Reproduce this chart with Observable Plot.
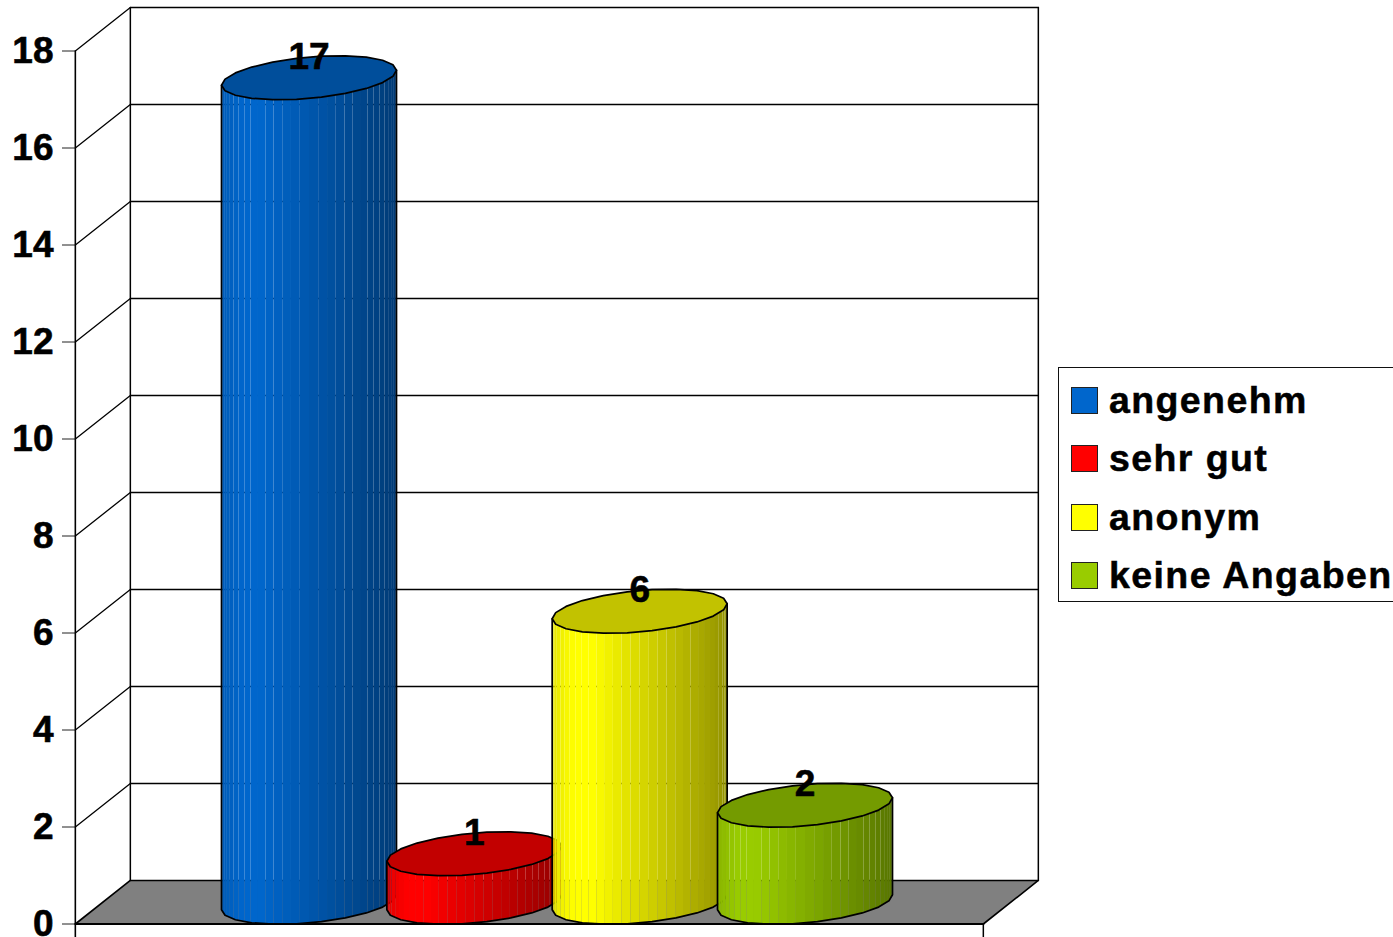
<!DOCTYPE html>
<html lang="de">
<head>
<meta charset="utf-8">
<script src="https://cdn.jsdelivr.net/npm/d3@7"></script>
<script src="https://cdn.jsdelivr.net/npm/@observablehq/plot@0.6"></script>
<style>
  html, body { margin: 0; padding: 0; background: #fff; overflow: hidden; }
  #page { position: relative; width: 1393px; height: 937px; overflow: hidden; font-family: "Liberation Sans", Arial, sans-serif; }
  #page svg { display: block; }
  #page svg text { stroke: #000; stroke-width: 0.6px; }
  #legend { position: absolute; left: 1058px; top: 367px; width: 340px; height: 234.5px; box-sizing: border-box; border: 1.5px solid #111; background: #fff; }
  .row { position: absolute; left: 12px; height: 26px; }
  .swatch { position: absolute; left: 0; top: -1px; width: 27px; height: 27px; box-sizing: border-box; border: 1.5px solid #222; }
  .name { position: absolute; left: 38px; top: -7px; line-height: 38px; font-size: 37.5px; font-weight: bold; letter-spacing: 1.4px; white-space: nowrap; color: #000; -webkit-text-stroke: 0.5px #000; }
</style>
</head>
<body>
<div id="page"></div>
<script>
// Chart values
const categories = ["angenehm", "sehr gut", "anonym", "keine Angaben"];
const values = [17, 1, 6, 2];
const baseColors = [[0, 102, 204], [255, 0, 0], [255, 255, 0], [153, 204, 0]];
const yTicks = [0, 2, 4, 6, 8, 10, 12, 14, 16, 18];
const legendTops = [20, 78, 137, 195];

// Chart frame, in data units (x: category slots, y: axis values)
const xLeft = -1.4133, xRight = 4.0786;
const depthX = 0.3327, depthY = 0.897;
const yMax = 18;
const halfX = 0.5292, halfY = 0.4536, tilt = 20 * Math.PI / 180;
const facets = 30;      // shading strips on the front half
const rimSides = 22;    // corners of the cylinder rim, all round

const rgb = (c, f) => `rgb(${c.map(v => Math.round(v * f)).join(",")})`;
const shade = u => u < 0.12 ? 0.9 + u / 0.12 * 0.1 : u < 0.22 ? 1 : 1 - (u - 0.22) / 0.78 * 0.42;

const corner = (i, level, t) => ({
  x: i + halfX * Math.cos(t),
  y: level + depthY / 2 + halfY * Math.sin(t + tilt)
});
const rimPoint = (i, level, t) => {
  const step = 2 * Math.PI / rimSides;
  const k = Math.min(Math.floor(t / step + 1e-9), rimSides - 1);
  const f = t / step - k;
  const a = corner(i, level, k * step), b = corner(i, level, (k + 1) * step);
  return {x: a.x + (b.x - a.x) * f, y: a.y + (b.y - a.y) * f};
};
const frontAngle = k => Math.PI + Math.PI * k / facets;

const cylinderMarks = [];
values.forEach((v, i) => {
  const strip = [];
  for (let k = 0; k < facets; ++k) {
    const a = frontAngle(k), b = frontAngle(k + 1);
    const u = (1 + Math.cos((a + b) / 2)) / 2;
    const color = rgb(baseColors[i], shade(u));
    [rimPoint(i, 0, a), rimPoint(i, 0, b), rimPoint(i, v, b), rimPoint(i, v, a)]
      .forEach(p => strip.push({...p, id: `${i}-${k}`, color}));
  }
  const outline = [corner(i, v, Math.PI)];
  for (let k = rimSides / 2; k <= rimSides; ++k) outline.push(corner(i, 0, k * 2 * Math.PI / rimSides));
  outline.push(corner(i, v, 2 * Math.PI));
  const top = [];
  for (let k = 0; k < rimSides; ++k) top.push({...corner(i, v, k * 2 * Math.PI / rimSides), color: rgb(baseColors[i], 0.76)});
  cylinderMarks.push(
    Plot.line(strip, {x: "x", y: "y", z: "id", fill: "color", stroke: "none", curve: "linear-closed"}),
    Plot.line(outline, {x: "x", y: "y", stroke: "#000", strokeWidth: 1.7}),
    Plot.line(top, {x: "x", y: "y", z: "color", fill: "color", stroke: "#000", strokeWidth: 1.7, curve: "linear-closed"})
  );
});

const floor = [
  {x: xLeft, y: 0}, {x: xRight, y: 0},
  {x: xRight + depthX, y: depthY}, {x: xLeft + depthX, y: depthY}
];
const grid = yTicks.slice(1).flatMap(v => [
  {x: xLeft, y: v, v}, {x: xLeft + depthX, y: v + depthY, v}, {x: xRight + depthX, y: v + depthY, v}
]);
const labels = values.map((v, i) => ({x: i, y: v + depthY / 2 + 0.43, text: String(v)}));

const chart = Plot.plot({
  width: 1393, height: 937,
  marginLeft: 75, marginRight: 0, marginTop: 50.5, marginBottom: 13.5,
  style: {fontFamily: '"Liberation Sans", Arial, sans-serif', background: "#fff", overflow: "hidden"},
  x: {domain: [0, 3], range: [308.5, 804.5], axis: null},
  y: {domain: [0, yMax], range: [923.5, 50.5]},
  color: {type: "identity"},
  marks: [
    Plot.line(floor, {x: "x", y: "y", fill: "#808080", stroke: "#000", strokeWidth: 1.6, curve: "linear-closed"}),
    Plot.line(grid, {x: "x", y: "y", z: "v", stroke: "#000", strokeWidth: 1.3}),
    Plot.line([{x: xLeft + depthX, y: depthY}, {x: xLeft + depthX, y: yMax + depthY}], {x: "x", y: "y", stroke: "#000", strokeWidth: 1.5}),
    Plot.line([{x: xRight + depthX, y: depthY}, {x: xRight + depthX, y: yMax + depthY}], {x: "x", y: "y", stroke: "#000", strokeWidth: 1.5}),
    ...cylinderMarks,
    Plot.line([{x: xLeft, y: yMax}, {x: xLeft, y: -0.3}], {x: "x", y: "y", stroke: "#000", strokeWidth: 1.6}),
    Plot.line([{x: xLeft, y: 0}, {x: xRight, y: 0}], {x: "x", y: "y", stroke: "#000", strokeWidth: 2.2}),
    Plot.line([{x: xRight, y: 0}, {x: xRight, y: -0.3}], {x: "x", y: "y", stroke: "#000", strokeWidth: 1.5}),
    Plot.axisY({ticks: yTicks, label: null, tickSize: 13, tickPadding: 9, fontSize: 37, fontWeight: "bold", stroke: "#222", fill: "#000", tickFormat: d => String(d)}),
    Plot.text(labels, {x: "x", y: "y", text: "text", fontSize: 37, fontWeight: "bold", fill: "#000"})
  ]
});

const page = document.getElementById("page");
page.appendChild(chart);

const legend = document.createElement("div");
legend.id = "legend";
categories.forEach((name, i) => {
  const row = document.createElement("div");
  row.className = "row";
  row.style.top = legendTops[i] + "px";
  const swatch = document.createElement("div");
  swatch.className = "swatch";
  swatch.style.background = rgb(baseColors[i], 1);
  const label = document.createElement("div");
  label.className = "name";
  label.textContent = name;
  row.append(swatch, label);
  legend.appendChild(row);
});
page.appendChild(legend);
</script>
</body>
</html>
